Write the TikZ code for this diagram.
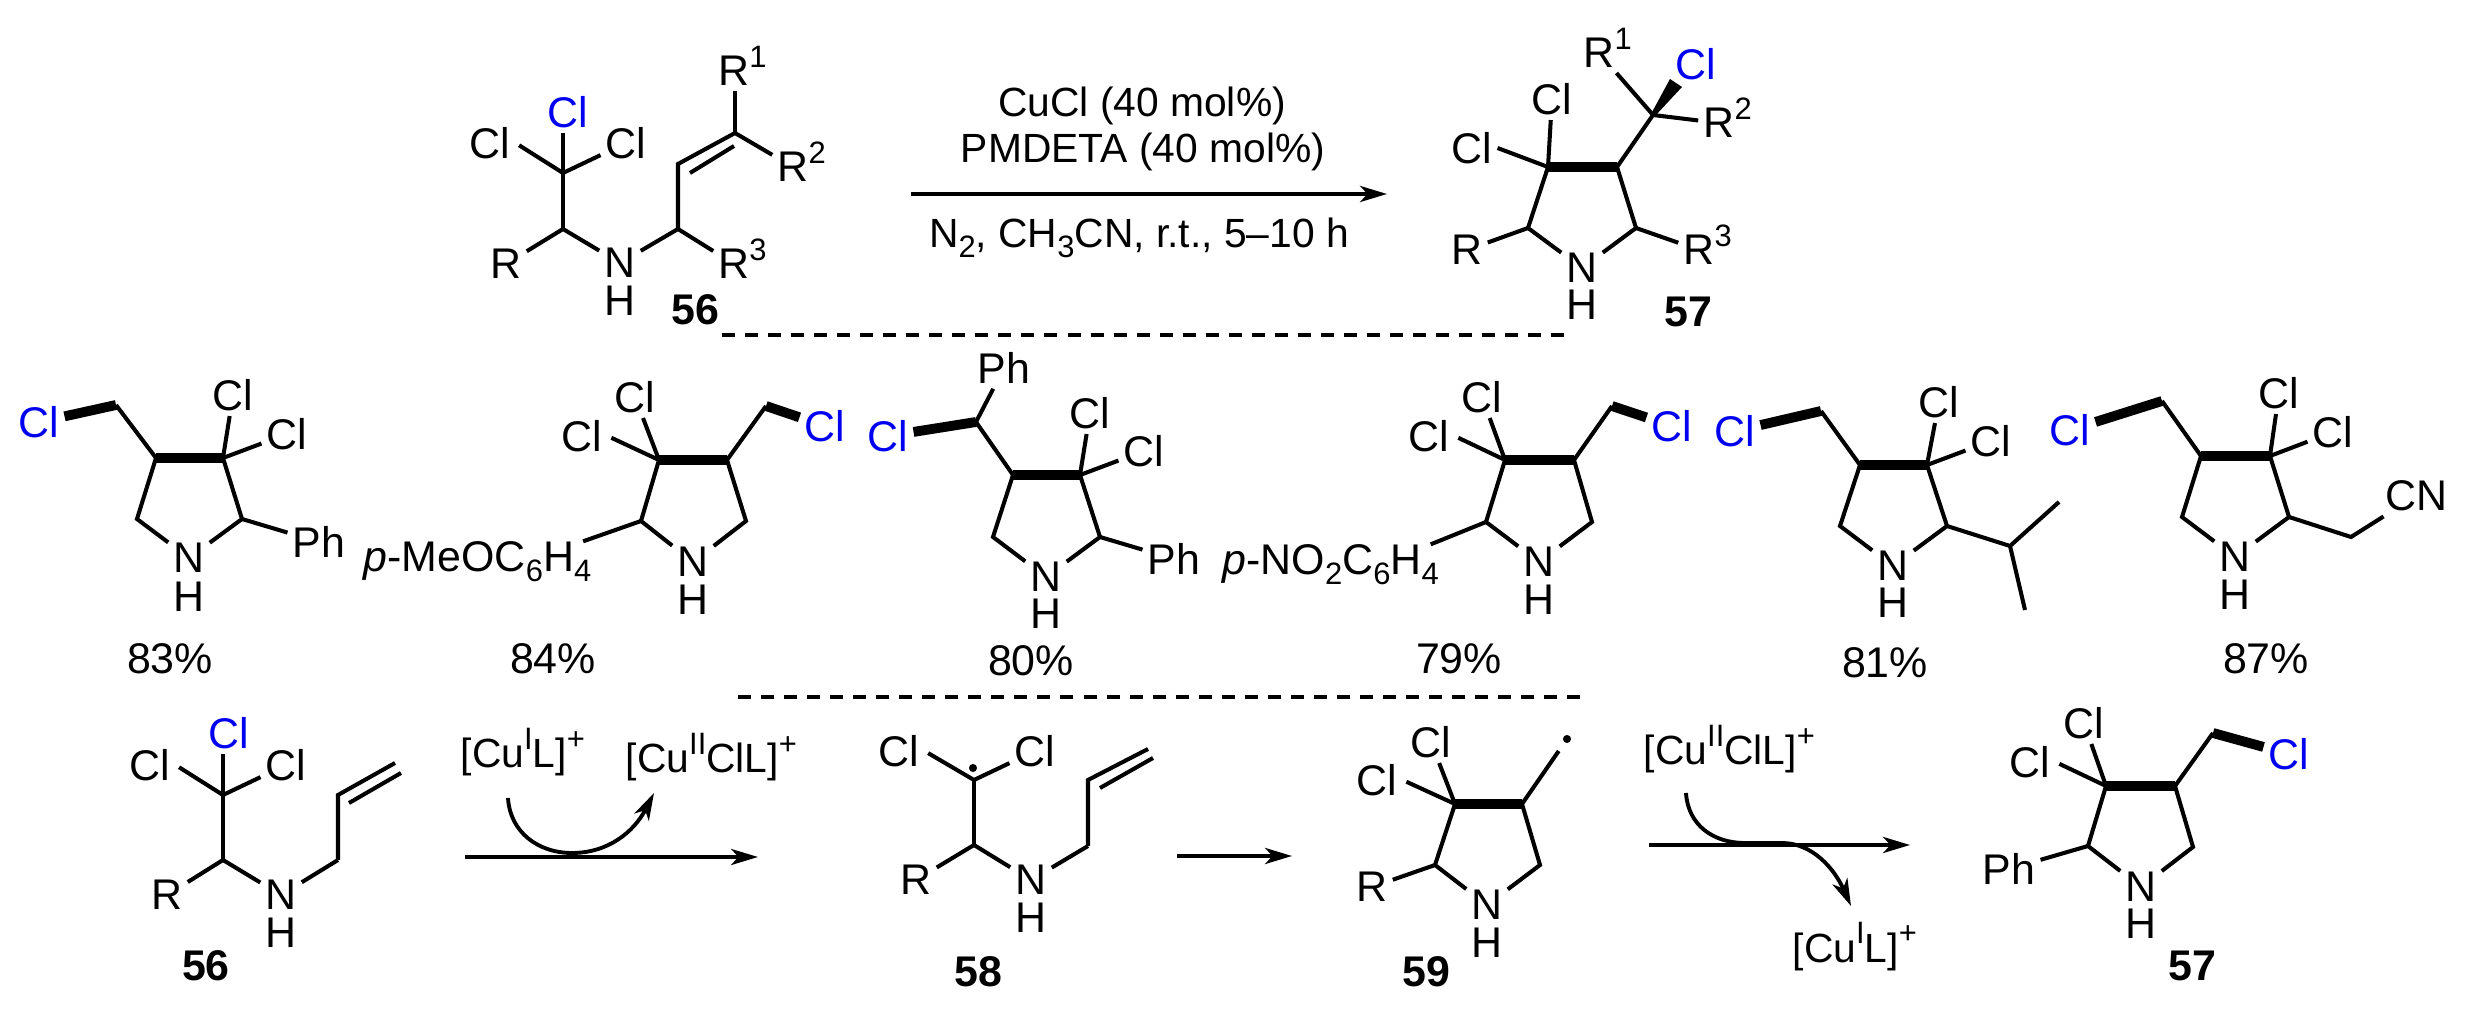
\documentclass[tikz,border=0pt]{standalone}
\usepackage{fontspec}
\setmainfont{Liberation Sans}
\usetikzlibrary{arrows.meta,calc}
\newcommand\atomsize{\fontsize{12.2}{14}\selectfont}
\newcommand\reagsize{\fontsize{11.6}{14}\selectfont}
\newcommand\smallsize{\fontsize{8.8}{10}\selectfont}
\newcommand\sps[1]{\smash{\rlap{\raisebox{5.3pt}{\smallsize #1}}}}
\newcommand\supr[1]{\raisebox{5.3pt}{\smallsize #1}}
\newcommand\sbs[1]{\raisebox{-2.6pt}{\smallsize #1}}
\definecolor{clblue}{RGB}{0,0,240}
\tikzset{
  x=0.01cm,y=-0.01cm,
  atom/.style={inner sep=1.3pt,font=\atomsize,text=black},
  bluecl/.style={atom,text=clblue},
  plain/.style={inner sep=0pt,font=\atomsize,text=black},
  reag/.style={inner sep=0pt,font=\reagsize,text=black},
  cmpd/.style={inner sep=0pt,font=\atomsize\bfseries,text=black},
  bond/.style={line width=1.15pt,line cap=butt,line join=miter},
  boldbond/.style={line width=2.8pt,line cap=butt},
  trim/.style={shorten >=1.2pt},
  sep/.style={line width=1.15pt,dash pattern=on 3.7pt off 2.85pt},
  rxn/.style={line width=1.1pt,-{Stealth[length=7.7pt,width=4.6pt,inset=2.2pt]}},
  dot/.style={circle,fill=black,inner sep=0pt,minimum size=2.3pt},
}
% pyrrolidine core: prefix, upper left, upper right, lower left, lower right, N, H
\newcommand\pyr[7]{%
  \coordinate (#1a) at (#2);
  \coordinate (#1b) at (#3);
  \coordinate (#1c) at (#4);
  \coordinate (#1d) at (#5);
  \node[atom] (#1N) at (#6) {N};
  \node[atom] (#1H) at (#7) {H};
  \draw[boldbond] (#1a) -- (#1b);
  \draw[bond] (#1a) -- (#1c) -- (#1N);
  \draw[bond] (#1b) -- (#1d) -- (#1N);
}
\begin{document}
\begin{tikzpicture}
\useasboundingbox (0,0) rectangle (2466,1010);

% ===== top: substrate 56
\coordinate (sc) at (563,173);
\coordinate (sd) at (563,229);
\coordinate (se) at (678,229);
\coordinate (sf) at (678,164);
\coordinate (sg) at (735,133);
\coordinate (si) at (690,173);
\coordinate (sj) at (734,146);
\node[bluecl] (sClb) at (568,112) {Cl};
\node[atom] (sCll) at (490,143) {Cl};
\node[atom] (sClr) at (626,143) {Cl};
\node[atom] (sR) at (506,264) {R};
\node[atom] (sN) at (620,263) {N};
\node[atom] (sH) at (620,301) {H};
\node[atom] (sR3) at (734,264) {R\sps{3}};
\node[atom] (sR1) at (734,71) {R\sps{1}};
\node[atom] (sR2) at (793,167) {R\sps{2}};
\draw[bond] (sc) -- (sc |- sClb.south);
\draw[bond,trim] (sc) -- (sCll.east);
\draw[bond] (sc) -- (sClr);
\draw[bond] (sc) -- (sd);
\draw[bond] (sd) -- (sR);
\draw[bond] (sd) -- (sN);
\draw[bond] (sN) -- (se);
\draw[bond] (se) -- (sR3);
\draw[bond] (se) -- (sf) -- (sg);
\draw[bond] (si) -- (sj);
\draw[bond] (sg) -- (sg |- sR1.south);
\draw[bond] (sg) -- (sR2);
\node[cmpd] (l56a) at (695,310) {56};

% reaction arrow
\coordinate (ra) at (911,194);
\coordinate (rb) at (1387,194);
\draw[rxn] (ra) -- (rb);
\node[reag,anchor=base] (rt1) at (1142,117) {CuCl (40 mol\%)};
\node[reag,anchor=base] (rt2) at (1143,163) {PMDETA (40 mol\%)};
\node[reag,anchor=base] (rt3) at (1139,248) {N\sbs{2}, CH\sbs{3}CN, r.t., 5–10 h};

% ===== top: product 57
\pyr{p}{1548,167}{1617,167}{1528,228}{1636,228}{1582,268}{1582,305}
\coordinate (pq) at (1653,115);
\coordinate (pq1) at (1651,114);
\coordinate (pq2) at (1655,116);
\coordinate (pw1) at (1670,79);
\coordinate (pw2) at (1682,87);
\node[bluecl] (pClb) at (1696,64) {Cl};
\node[atom] (pR1) at (1599,53) {R\sps{1}};
\node[atom] (pR2) at (1719,123) {R\sps{2}};
\node[atom] (pR3) at (1699,250) {R\sps{3}};
\node[atom] (pR) at (1467,250) {R};
\node[atom] (pClt) at (1552,99) {Cl};
\node[atom] (pCll) at (1472,148) {Cl};
\draw[bond] (pb) -- (pq);
\fill (pq1) -- (pw1) -- (pw2) -- (pq2) -- cycle;
\draw[bond] (pq) -- (pR1);
\draw[bond] (pq) -- (pR2);
\draw[bond] (pd) -- (pR3);
\draw[bond] (pc) -- (pR);
\draw[bond] (pa) -- (pClt);
\draw[bond] (pa) -- (pCll.east);
\node[cmpd] (l57a) at (1688,312) {57};

% separators
\coordinate (d1a) at (722,335);
\coordinate (d1b) at (1566,335);
\draw[sep] (d1a) -- (d1b);
\coordinate (d2a) at (738,697);
\coordinate (d2b) at (1582,697);
\draw[sep] (d2a) -- (d2b);

% ===== examples, 83%
\pyr{A}{156,458}{223,458}{137,519}{242,519}{189,558}{189,597}
\coordinate (Ae) at (116,405);
\node[bluecl] (ACl) at (39,422) {Cl};
\node[atom] (AClt) at (233,395) {Cl};
\node[atom] (AClr) at (287,434) {Cl};
\node[atom] (APh) at (319,542) {Ph};
\draw[bond] (Aa) -- (Ae);
\draw[boldbond] (Ae) -- (ACl);
\draw[bond] (Ab) -- (AClt);
\draw[bond] (Ab) -- (AClr);
\draw[bond] (Ad) -- (APh);
\node[plain] (Ay) at (170,659) {83\%};

% 84%
\pyr{B}{659,460}{727,460}{641,521}{746,521}{693,562}{693,600}
\coordinate (Be) at (766,406);
\node[bluecl] (BCl) at (825,426) {Cl};
\node[atom] (BClt) at (635,397) {Cl};
\node[atom] (BCll) at (582,436) {Cl};
\node[plain,anchor=base west] (BAr) at (363,572) {\textit{p}-MeOC\sbs{6}H\sbs{4}};
\draw[bond] (Bb) -- (Be);
\draw[boldbond] (Be) -- (BCl);
\draw[bond] (Ba) -- (BClt);
\draw[bond,trim] (Ba) -- (BCll.east);
\draw[bond] (Bc) -- ([xshift=-2.5pt]BAr.north east);
\node[plain] (By) at (553,659) {84\%};

% 80%
\pyr{C}{1013,475}{1080,475}{993,537}{1100,537}{1046,577}{1046,614}
\coordinate (Ce) at (976,422);
\node[bluecl] (CCl) at (888,436) {Cl};
\node[atom] (CPht) at (1004,368) {Ph};
\node[atom] (CClt) at (1090,413) {Cl};
\node[atom] (CClr) at (1144,451) {Cl};
\node[atom] (CPh) at (1174,559) {Ph};
\draw[bond] (Ca) -- (Ce);
\draw[boldbond] (Ce) -- (CCl);
\draw[bond] (Ce) -- (CPht);
\draw[bond] (Cb) -- (CClt);
\draw[bond] (Cb) -- (CClr);
\draw[bond] (Cd) -- (CPh);
\node[plain] (Cy) at (1031,661) {80\%};

% 79%
\pyr{D}{1505,460}{1574,460}{1486,522}{1592,522}{1539,562}{1539,600}
\coordinate (De) at (1612,406);
\node[bluecl] (DCl) at (1672,426) {Cl};
\node[atom] (DClt) at (1482,397) {Cl};
\node[atom] (DCll) at (1429,436) {Cl};
\node[plain,anchor=base west] (DAr) at (1222,575) {\textit{p}-NO\sbs{2}C\sbs{6}H\sbs{4}};
\draw[bond] (Db) -- (De);
\draw[boldbond] (De) -- (DCl);
\draw[bond] (Da) -- (DClt);
\draw[bond,trim] (Da) -- (DCll.east);
\draw[bond] (Dc) -- ([xshift=-2.5pt]DAr.north east);
\node[plain] (Dy) at (1459,659) {79\%};

% 81%
\pyr{E}{1860,465}{1927,465}{1840,526}{1947,526}{1893,566}{1893,603}
\coordinate (Ee) at (1821,411);
\coordinate (Ef) at (2010,546);
\coordinate (Eg) at (2059,502);
\coordinate (Eh) at (2025,610);
\node[bluecl] (ECl) at (1735,431) {Cl};
\node[atom] (EClt) at (1939,402) {Cl};
\node[atom] (EClr) at (1991,441) {Cl};
\draw[bond] (Ea) -- (Ee);
\draw[boldbond] (Ee) -- (ECl);
\draw[bond] (Eb) -- (EClt);
\draw[bond] (Eb) -- (EClr);
\draw[bond] (Ed) -- (Ef) -- (Eg);
\draw[bond] (Ef) -- (Eh);
\node[plain] (Ey) at (1885,663) {81\%};

% 87%
\pyr{F}{2201,456}{2270,456}{2182,517}{2289,517}{2235,557}{2235,595}
\coordinate (Fe) at (2162,401);
\coordinate (Ff) at (2351,537);
\node[bluecl] (FCl) at (2070,430) {Cl};
\node[atom] (FClt) at (2279,393) {Cl};
\node[atom] (FClr) at (2333,432) {Cl};
\node[atom] (FCN) at (2416,496) {CN};
\draw[bond] (Fa) -- (Fe);
\draw[boldbond] (Fe) -- (FCl);
\draw[bond] (Fb) -- (FClt);
\draw[bond] (Fb) -- (FClr);
\draw[bond] (Fd) -- (Ff) -- (FCN);
\node[plain] (Fy) at (2266,659) {87\%};

% ===== bottom: 56
\coordinate (uc) at (223,795);
\coordinate (ud) at (223,860);
\coordinate (ue) at (338,860);
\coordinate (uf) at (338,795);
\coordinate (ug) at (395,763);
\coordinate (ui) at (349,803);
\coordinate (uj) at (401,773);
\node[bluecl] (uClb) at (229,733) {Cl};
\node[atom] (uCll) at (150,765) {Cl};
\node[atom] (uClr) at (286,765) {Cl};
\node[atom] (uR) at (167,895) {R};
\node[atom] (uN) at (281,895) {N};
\node[atom] (uH) at (281,933) {H};
\draw[bond] (uc) -- (uc |- uClb.south);
\draw[bond,trim] (uc) -- (uCll.east);
\draw[bond] (uc) -- (uClr);
\draw[bond] (uc) -- (ud);
\draw[bond] (ud) -- (uR);
\draw[bond] (ud) -- (uN);
\draw[bond] (uN) -- (ue);
\draw[bond] (ue) -- (uf) -- (ug);
\draw[bond] (ui) -- (uj);
\node[cmpd] (l56b) at (206,966) {56};

% first arrow
\node[reag,anchor=base west] (cu1) at (460,768) {[Cu\supr{I}L]\supr{+}};
\node[reag,anchor=base west] (cu2) at (625,773) {[Cu\supr{II}ClL]\supr{+}};
\coordinate (aa) at (465,857);
\coordinate (ab) at (758,857);
\draw[rxn] (aa) -- (ab);
\coordinate (ca) at (508,798);
\coordinate (cm) at (572,853);
\coordinate (cb) at (654,793);
\draw[rxn] (ca) .. controls (510,832) and (538,853) .. (cm) .. controls (608,853) and (634,832) .. (cb);

% 58
\coordinate (vc) at (974,780);
\coordinate (vd) at (974,845);
\coordinate (ve) at (1088,846);
\coordinate (vf) at (1088,780);
\coordinate (vg) at (1148,749);
\coordinate (vi) at (1100,788);
\coordinate (vj) at (1153,758);
\node[atom] (vCll) at (899,751) {Cl};
\node[atom] (vClr) at (1035,751) {Cl};
\node[dot] (vdot) at (973,768) {};
\node[atom] (vR) at (916,880) {R};
\node[atom] (vN) at (1031,880) {N};
\node[atom] (vH) at (1031,918) {H};
\draw[bond,trim] (vc) -- (vCll.east);
\draw[bond] (vc) -- (vClr);
\draw[bond] (vc) -- (vd);
\draw[bond] (vd) -- (vR);
\draw[bond] (vd) -- (vN);
\draw[bond] (vN) -- (ve);
\draw[bond] (ve) -- (vf) -- (vg);
\draw[bond] (vi) -- (vj);
\node[cmpd] (l58) at (978,972) {58};

% second arrow
\coordinate (ba) at (1177,856);
\coordinate (bb) at (1292,856);
\draw[rxn] (ba) -- (bb);

% 59
\pyr{G}{1455,804}{1522,804}{1435,865}{1540,865}{1487,905}{1487,943}
\node[atom] (GClt) at (1431,742) {Cl};
\node[atom] (GCll) at (1377,780) {Cl};
\node[atom] (GR) at (1372,887) {R};
\node[dot] (Gdot) at (1567,739) {};
\draw[bond] (Ga) -- (GClt);
\draw[bond,trim] (Ga) -- (GCll.east);
\draw[bond] (Gc) -- (GR);
\draw[bond,shorten >=2.8pt] (Gb) -- (Gdot);
\node[cmpd] (l59) at (1426,972) {59};

% third arrow
\node[reag,anchor=base west] (cu3) at (1643,765) {[Cu\supr{II}ClL]\supr{+}};
\node[reag,anchor=base west] (cu4) at (1792,962) {[Cu\supr{I}L]\supr{+}};
\coordinate (da) at (1649,845);
\coordinate (db) at (1910,845);
\draw[rxn] (da) -- (db);
\coordinate (ea) at (1686,793);
\coordinate (em) at (1745,843);
\coordinate (en) at (1782,843);
\coordinate (eb) at (1851,906);
\draw[rxn] (ea) .. controls (1688,825) and (1713,843) .. (em) -- (en) .. controls (1812,843) and (1834,868) .. (eb);

% final 57
\pyr{H}{2106,786}{2175,786}{2088,846}{2193,847}{2141,887}{2141,924}
\coordinate (He) at (2213,733);
\node[bluecl] (HCl) at (2289,754) {Cl};
\node[atom] (HClt) at (2084,723) {Cl};
\node[atom] (HCll) at (2030,762) {Cl};
\node[atom] (HPh) at (2009,869) {Ph};
\draw[bond] (Hb) -- (He);
\draw[boldbond] (He) -- (HCl);
\draw[bond] (Ha) -- (HClt);
\draw[bond,trim] (Ha) -- (HCll.east);
\draw[bond] (Hc) -- (HPh);
\node[cmpd] (l57b) at (2192,966) {57};
\end{tikzpicture}
\end{document}
